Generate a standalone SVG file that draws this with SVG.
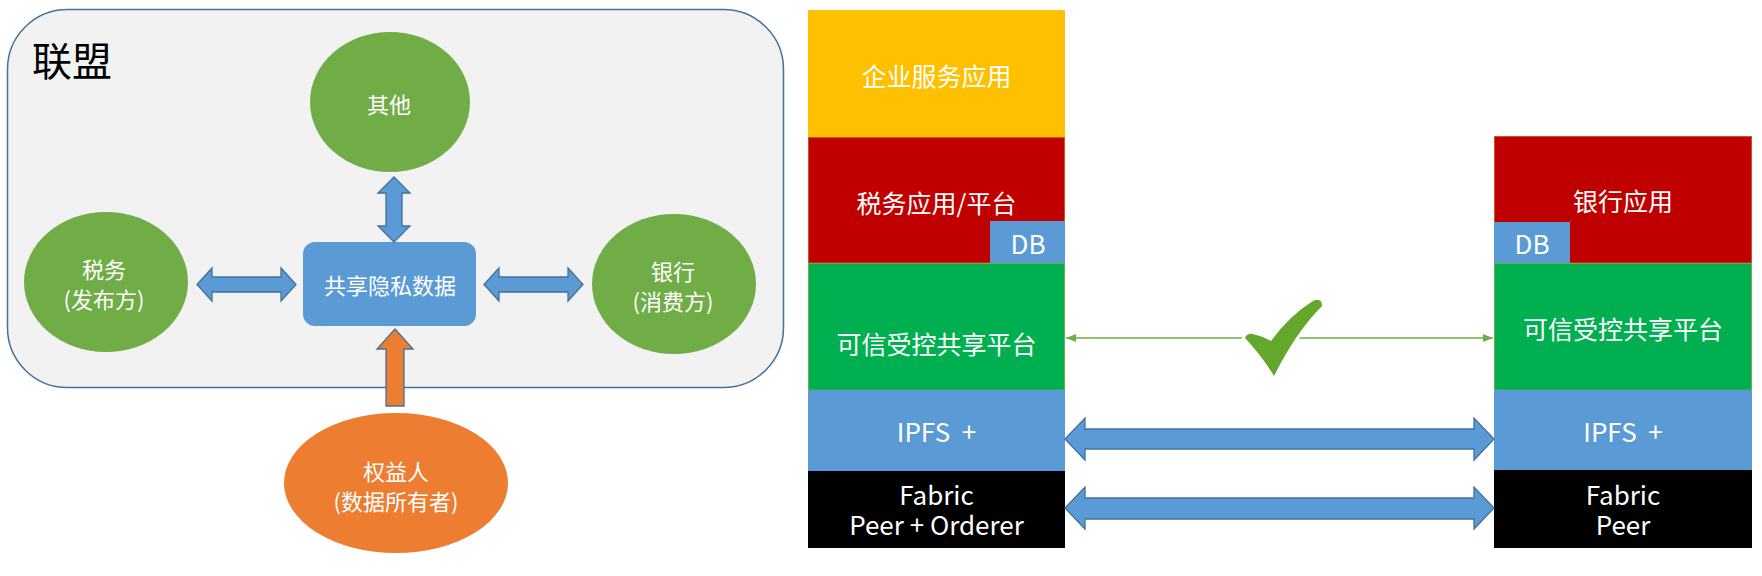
<svg xmlns="http://www.w3.org/2000/svg" width="1762" height="576" viewBox="0 0 1762 576">
<style>
.cn{font-family:"Noto Sans CJK SC","Noto Sans",sans-serif;fill:#fff;text-anchor:middle;dominant-baseline:central}
.l22{font-size:22px}
.r25{font-size:25px}
.r24{font-size:26px}
.barr{fill:#5b9bd5;stroke:#41719c;stroke-width:1.3}
.ell{fill:#70ad47}
</style>
<defs>
<marker id="ga" viewBox="0 0 10 8" refX="10" refY="4" markerWidth="10" markerHeight="8" markerUnits="userSpaceOnUse" orient="auto-start-reverse">
<path d="M0 0 L10 4 L0 8 Z" fill="#70ad47"/>
</marker>
</defs>
<rect width="1762" height="576" fill="#fff"/>

<g id="alliance">
<rect x="7.5" y="9.5" width="776" height="378" rx="60" ry="60" fill="#f2f2f2" stroke="#41719c" stroke-width="1.5"/>
<text x="32" y="59" style="font-family:'Noto Sans CJK SC',sans-serif;font-size:40px;fill:#000;dominant-baseline:central">联盟</text>
</g>

<g id="node-other">
<ellipse cx="390" cy="102" rx="80" ry="70" class="ell"/>
<text x="389" y="103" class="cn l22">其他</text>
</g>
<g id="node-tax">
<ellipse cx="106" cy="282" rx="82" ry="70" class="ell"/>
<text class="cn l22"><tspan x="104" y="268">税务</tspan><tspan x="104" y="298">(发布方)</tspan></text>
</g>
<g id="node-bank">
<ellipse cx="674" cy="284" rx="82" ry="70" class="ell"/>
<text class="cn l22"><tspan x="673" y="270">银行</tspan><tspan x="673" y="300">(消费方)</tspan></text>
</g>
<g id="node-shared">
<rect x="303" y="242" width="173" height="84" rx="12" fill="#5b9bd5"/>
<text x="390" y="284" class="cn l22">共享隐私数据</text>
</g>
<g id="node-owner">
<ellipse cx="396" cy="483" rx="112" ry="70" fill="#ed7d31"/>
<text class="cn l22"><tspan x="396" y="470">权益人</tspan><tspan x="396" y="500">(数据所有者)</tspan></text>
</g>

<g id="stack-left">
<rect x="808" y="10" width="257" height="127" fill="#ffc000"/>
<text x="936.5" y="75" class="cn r25">企业服务应用</text>
<rect x="808.5" y="137.5" width="256" height="125.5" fill="#c00000" stroke="#c55a11" stroke-width="1"/>
<text x="936.5" y="202" class="cn r25">税务应用/平台</text>
<rect x="990" y="221" width="75" height="42" fill="#5b9bd5"/>
<text x="1028" y="242" class="cn r24">DB</text>
<rect x="808.5" y="263.5" width="256" height="126.5" fill="#00b050" stroke="#70ad47" stroke-width="1"/>
<text x="936.5" y="343" class="cn r25">可信受控共享平台</text>
<rect x="808" y="390" width="257" height="81" fill="#5b9bd5"/>
<text x="936.5" y="430" class="cn r24" xml:space="preserve">IPFS  +</text>
<rect x="808" y="471" width="257" height="77" fill="#000"/>
<text class="cn r24"><tspan x="936.5" y="493">Fabric</tspan><tspan x="936.5" y="523">Peer + Orderer</tspan></text>
</g>

<g id="stack-right">
<rect x="1494.5" y="136.5" width="257" height="126.5" fill="#c00000" stroke="#c55a11" stroke-width="1"/>
<text x="1623" y="200" class="cn r25">银行应用</text>
<rect x="1494" y="222" width="76" height="41" fill="#5b9bd5"/>
<text x="1532" y="242" class="cn r24">DB</text>
<rect x="1494.5" y="263.5" width="257" height="126.5" fill="#00b050" stroke="#70ad47" stroke-width="1"/>
<text x="1623" y="328" class="cn r25">可信受控共享平台</text>
<rect x="1494" y="390" width="258" height="80" fill="#5b9bd5"/>
<text x="1623" y="430" class="cn r24" xml:space="preserve">IPFS  +</text>
<rect x="1494" y="470" width="258" height="78" fill="#000"/>
<text class="cn r24"><tspan x="1623" y="493">Fabric</tspan><tspan x="1623" y="523">Peer</tspan></text>
</g>

<g id="connectors">
<polygon class="barr" points="394,177 410,193 402,193 402,226 410,226 394,242 378,226 386,226 386,193 378,193"/>
<polygon class="barr" points="197,284.5 212,268 212,277 281,277 281,268 296,284.5 281,301 281,292 212,292 212,301"/>
<polygon class="barr" points="484,284.5 499,268 499,277 568,277 568,268 583,284.5 568,301 568,292 499,292 499,301"/>
<polygon points="395,329 413,349 404,349 404,406 386,406 386,349 377,349" fill="#ed7d31" stroke="#41719c" stroke-width="1.3"/>
<polygon class="barr" points="1065,439 1085,418 1085,429 1474,429 1474,418 1494,439 1474,460 1474,449 1085,449 1085,460"/>
<polygon class="barr" points="1065,508 1085,487 1085,498 1474,498 1474,487 1494,508 1474,529 1474,519 1085,519 1085,529"/>
<line x1="1066" y1="338" x2="1493" y2="338" stroke="#70ad47" stroke-width="1.5" marker-start="url(#ga)" marker-end="url(#ga)"/>
<path d="M1245 338 Q1247 333 1253 334 Q1262 336 1271 341 Q1290 315 1313 301 Q1322 297 1322 306 Q1296 332 1274 376 Q1262 356 1245 338 Z" fill="#63a72c" stroke="#fff" stroke-width="6" paint-order="stroke"/>
</g>
</svg>
